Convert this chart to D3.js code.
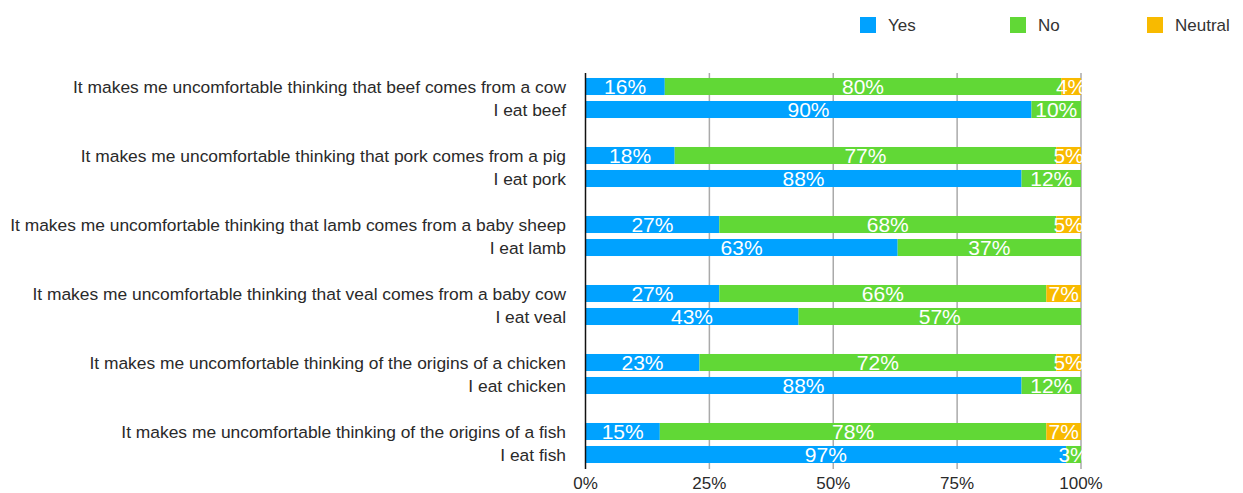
<!DOCTYPE html>
<html>
<head>
<meta charset="utf-8">
<script src="https://cdn.jsdelivr.net/npm/d3@7"></script>
<style>
  html, body { margin: 0; padding: 0; background: #fff; }
  svg { display: block; font-family: "Liberation Sans", Arial, Helvetica, sans-serif; }
</style>
</head>
<body>
<svg id="chart" width="1243" height="493"></svg>
<script>
// Survey rows, top to bottom; each meat has a question row and an "I eat" row
const rowLabels = [
  "It makes me uncomfortable thinking that beef comes from a cow",
  "I eat beef",
  "It makes me uncomfortable thinking that pork comes from a pig",
  "I eat pork",
  "It makes me uncomfortable thinking that lamb comes from a baby sheep",
  "I eat lamb",
  "It makes me uncomfortable thinking that veal comes from a baby cow",
  "I eat veal",
  "It makes me uncomfortable thinking of the origins of a chicken",
  "I eat chicken",
  "It makes me uncomfortable thinking of the origins of a fish",
  "I eat fish"
];
const yesValues     = [16, 90, 18, 88, 27, 63, 27, 43, 23, 88, 15, 97];
const noValues      = [80, 10, 77, 12, 68, 37, 66, 57, 72, 12, 78, 3];
const neutralValues = [4, 0, 5, 0, 5, 0, 7, 0, 5, 0, 7, 0];
const seriesNames  = ["Yes", "No", "Neutral"];
const seriesColors = ["#00a2ff", "#61d836", "#f8ba00"];
const tickValues = [0, 25, 50, 75, 100];

const svg = d3.select("#chart");

const x = d3.scaleLinear().domain([0, 100]).range([585.5, 1081]);

// Three slots per pair: question, "I eat", blank spacer
const slots = [];
rowLabels.forEach((_, i) => {
  slots.push("r" + i);
  if (i % 2 === 1) slots.push("gap" + i);
});
const y = d3.scaleBand().domain(slots).range([75, 489]).paddingInner(0.26).paddingOuter(0.13);

const rows = rowLabels.map((label, i) => ({
  label, key: "r" + i,
  values: [yesValues[i], noValues[i], neutralValues[i]]
}));

// Gridlines
const gridTop = 73, gridBottom = 469;
svg.append("g").selectAll("line").data(tickValues.filter(t => t > 0)).join("line")
  .attr("x1", d => x(d)).attr("x2", d => x(d))
  .attr("y1", gridTop).attr("y2", gridBottom)
  .attr("stroke", "#aaaaaa").attr("stroke-width", 1.5);

// Stacked bars
const stack = d3.stack().keys([0, 1, 2]).value((d, k) => d.values[k]);
const layers = stack(rows);

const segs = [];
layers.forEach((layer, k) => {
  layer.forEach((s, i) => {
    if (s[1] - s[0] > 0) segs.push({ k, row: rows[i], x0: s[0], x1: s[1], v: s[1] - s[0] });
  });
});

svg.append("g").selectAll("rect").data(segs).join("rect")
  .attr("x", d => x(d.x0))
  .attr("width", d => x(d.x1) - x(d.x0))
  .attr("y", d => y(d.row.key))
  .attr("height", y.bandwidth())
  .attr("fill", d => seriesColors[d.k]);

// Value labels centred on each segment
svg.append("g").selectAll("text").data(segs).join("text")
  .attr("x", d => (x(d.x0) + x(d.x1)) / 2)
  .attr("y", d => y(d.row.key) + y.bandwidth() / 2)
  .attr("dy", "0.36em")
  .attr("text-anchor", "middle")
  .attr("fill", "#ffffff")
  .attr("font-size", 21)
  .text(d => d.v + "%");

// Zero axis line
svg.append("line")
  .attr("x1", x(0)).attr("x2", x(0))
  .attr("y1", gridTop).attr("y2", gridBottom)
  .attr("stroke", "#111").attr("stroke-width", 1.5);

// Row labels
svg.append("g").selectAll("text").data(rows).join("text")
  .attr("x", 566)
  .attr("y", d => y(d.key) + y.bandwidth() / 2)
  .attr("dy", "0.35em")
  .attr("text-anchor", "end")
  .attr("fill", "#2a2a2a")
  .attr("font-size", 17.4)
  .text(d => d.label);

// X tick labels
svg.append("g").selectAll("text").data(tickValues).join("text")
  .attr("x", d => x(d))
  .attr("y", 483)
  .attr("dy", "0.35em")
  .attr("text-anchor", "middle")
  .attr("fill", "#2a2a2a")
  .attr("font-size", 17)
  .text(d => d + "%");

// Legend
const legendX = [860, 1010, 1147];
const legend = svg.append("g").selectAll("g").data(seriesNames).join("g")
  .attr("transform", (d, i) => `translate(${legendX[i]},17)`);
legend.append("rect").attr("width", 16).attr("height", 16)
  .attr("fill", (d, i) => seriesColors[i]);
legend.append("text").attr("x", 28).attr("y", 8).attr("dy", "0.35em")
  .attr("fill", "#333").attr("font-size", 17).text(d => d);
</script>
</body>
</html>
